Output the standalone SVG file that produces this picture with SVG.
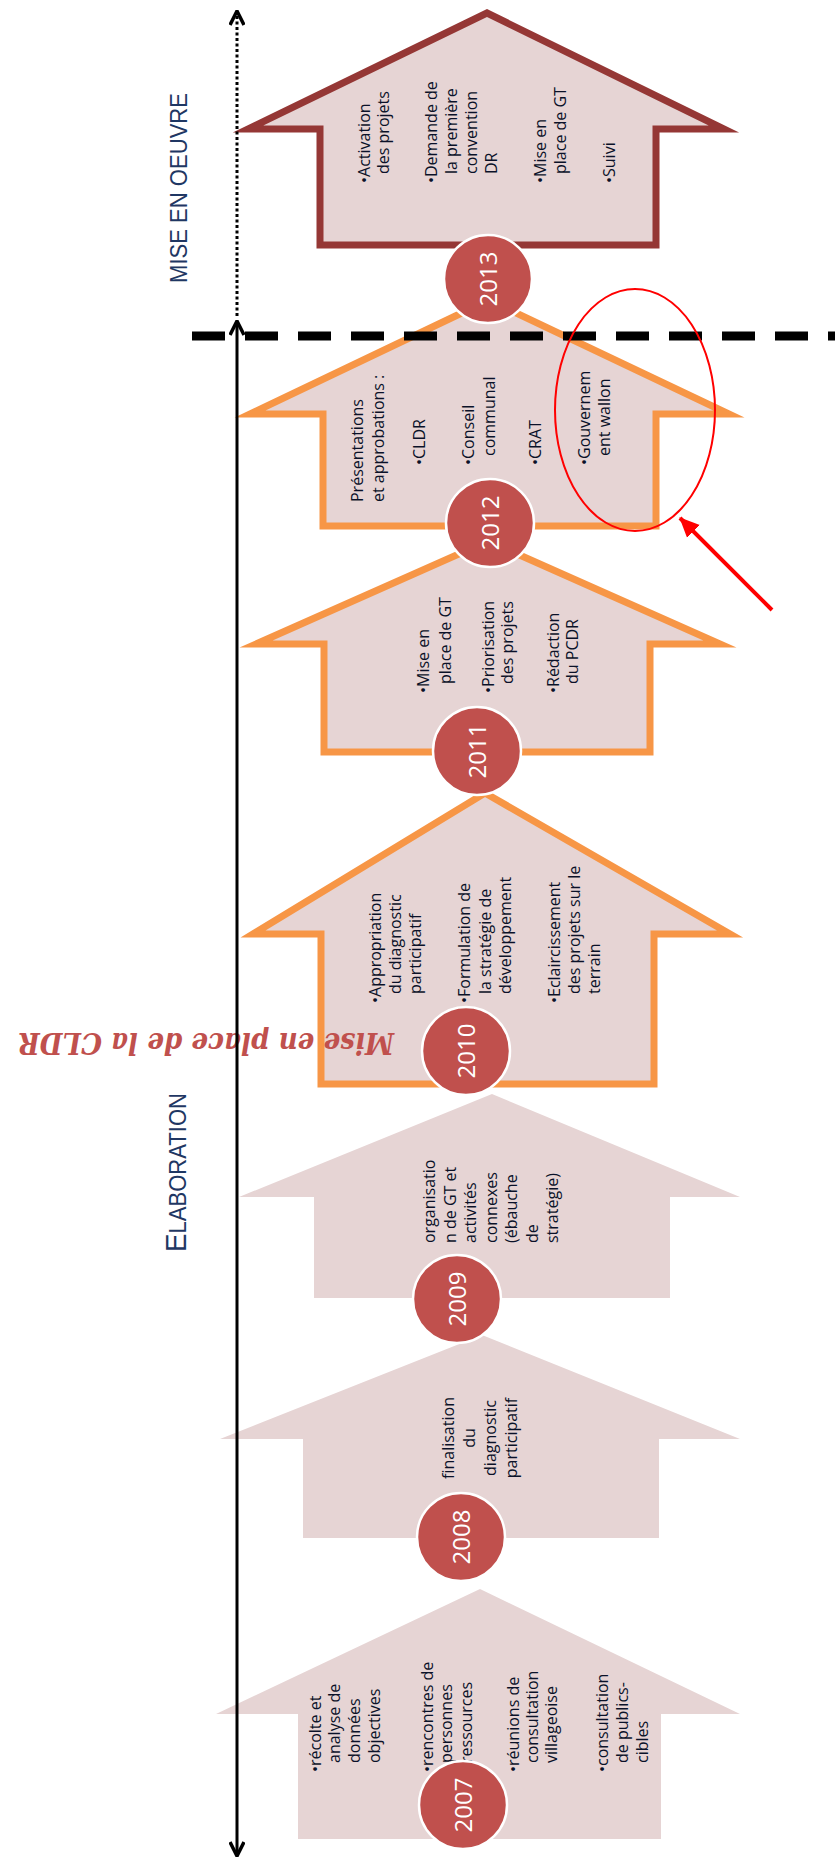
<svg xmlns="http://www.w3.org/2000/svg" width="835" height="1858" viewBox="0 0 835 1858">
<defs>
<style>
.h{fill:#E6D4D4}
.ho{fill:#E6D4D4;stroke:#F79646;stroke-width:7;stroke-miterlimit:10}
.hr{fill:#E6D4D4;stroke:#953735;stroke-width:7;stroke-miterlimit:10}
.t{font-family:"Open Sans","Noto Sans",sans-serif;font-size:16px;fill:#0A1128}
.yc{fill:#C0504D;stroke:#ffffff;stroke-width:2.5}
.yt{font-family:"Open Sans","Noto Sans",sans-serif;font-size:24px;fill:#ffffff;text-anchor:middle}
.lab{font-family:"Liberation Sans",Arial,sans-serif;fill:#1F3763}
.ax{fill:none;stroke:#000;stroke-width:3}
</style>
<marker id="chev" viewBox="0 0 16 16" refX="15" refY="8" markerWidth="16" markerHeight="16" markerUnits="userSpaceOnUse" orient="auto-start-reverse">
<path d="M1,1 L15,8 L1,15" fill="none" stroke="#000" stroke-width="3.5"/>
</marker>
<marker id="redhead" viewBox="0 0 20 20" refX="19" refY="10" markerWidth="20" markerHeight="20" markerUnits="userSpaceOnUse" orient="auto">
<path d="M0,1 L20,10 L0,19 Z" fill="#FF0000"/>
</marker>
</defs>
<rect width="835" height="1858" fill="#ffffff"/>

<g id="node-2007">
<polygon class="h" points="480,1589 740,1714 661,1714 661,1839 298,1839 298,1714 216,1714"/>
<text class="t" transform="translate(321,1772) rotate(-90)"><tspan x="0" y="0">•récolte et</tspan><tspan x="9" y="19">analyse de</tspan><tspan x="9" y="39">données</tspan><tspan x="9" y="59">objectives</tspan></text>
<text class="t" transform="translate(433,1772) rotate(-90)"><tspan x="0" y="0">•rencontres de</tspan><tspan x="9" y="19">personnes</tspan><tspan x="9" y="39">ressources</tspan></text>
<text class="t" transform="translate(519,1772) rotate(-90)"><tspan x="0" y="0">•réunions de</tspan><tspan x="9" y="19">consultation</tspan><tspan x="9" y="38">villageoise</tspan></text>
<text class="t" transform="translate(608,1772) rotate(-90)"><tspan x="0" y="0">•consultation</tspan><tspan x="9" y="20">de publics-</tspan><tspan x="9" y="40">cibles</tspan></text>
<circle class="yc" cx="463" cy="1805" r="44"/>
<text class="yt" transform="translate(471.5,1805) rotate(-90)">2007</text>
</g>

<g id="node-2008">
<polygon class="h" points="482,1335 740,1439 659,1439 659,1538 303,1538 303,1439 220,1439"/>
<text class="t" text-anchor="middle" transform="translate(454,1438) rotate(-90)"><tspan x="0" y="0">finalisation</tspan><tspan x="0" y="21">du</tspan><tspan x="0" y="42">diagnostic</tspan><tspan x="0" y="63">participatif</tspan></text>
<circle class="yc" cx="461" cy="1537" r="44"/>
<text class="yt" transform="translate(469.5,1537) rotate(-90)">2008</text>
</g>

<g id="node-2009">
<polygon class="h" points="492,1094 740,1197 670,1197 670,1298 314,1298 314,1197 239,1197"/>
<text class="t" transform="translate(435,1243) rotate(-90)"><tspan x="0" y="0">organisatio</tspan><tspan x="0" y="21">n de GT et</tspan><tspan x="0" y="41">activités</tspan><tspan x="0" y="62">connexes</tspan><tspan x="0" y="82">(ébauche</tspan><tspan x="0" y="103">de</tspan><tspan x="0" y="123">stratégie)</tspan></text>
<circle class="yc" cx="457" cy="1299" r="44"/>
<text class="yt" transform="translate(465.5,1299) rotate(-90)">2009</text>
</g>

<g id="node-2010">
<polygon class="ho" points="485,793 730,934 654,934 654,1084 321,1084 321,934 253,934"/>
<text class="t" transform="translate(381,1003) rotate(-90)"><tspan x="0" y="0">•Appropriation</tspan><tspan x="9" y="20">du diagnostic</tspan><tspan x="9" y="40">participatif</tspan></text>
<text class="t" transform="translate(470,1003) rotate(-90)"><tspan x="0" y="0">•Formulation de</tspan><tspan x="9" y="21">la stratégie de</tspan><tspan x="9" y="41">développement</tspan></text>
<text class="t" transform="translate(560,1003) rotate(-90)"><tspan x="0" y="0">•Eclaircissement</tspan><tspan x="9" y="20">des projets sur le</tspan><tspan x="9" y="40">terrain</tspan></text>
<circle class="yc" cx="466" cy="1051" r="44"/>
<text class="yt" transform="translate(474.5,1051) rotate(-90)">2010</text>
</g>

<g id="node-2011">
<polygon class="ho" points="488,541 720,644 650,644 650,752 324,752 324,644 256,644"/>
<text class="t" transform="translate(429,693) rotate(-90)"><tspan x="0" y="0">•Mise en</tspan><tspan x="9" y="22">place de GT</tspan></text>
<text class="t" transform="translate(494,693) rotate(-90)"><tspan x="0" y="0">•Priorisation</tspan><tspan x="9" y="19">des projets</tspan></text>
<text class="t" transform="translate(559,693) rotate(-90)"><tspan x="0" y="0">•Rédaction</tspan><tspan x="9" y="19">du PCDR</tspan></text>
<circle class="yc" cx="477" cy="751" r="44"/>
<text class="yt" transform="translate(485.5,751) rotate(-90)">2011</text>
</g>

<g id="node-2012">
<polygon class="ho" points="489,300 729,414 656,414 656,526 323,526 323,414 250,414"/>
<text class="t" transform="translate(363,502) rotate(-90)"><tspan x="0" y="0">Présentations</tspan><tspan x="0" y="21">et approbations :</tspan></text>
<text class="t" transform="translate(425,465) rotate(-90)">•CLDR</text>
<text class="t" transform="translate(474,465) rotate(-90)"><tspan x="0" y="0">•Conseil</tspan><tspan x="9" y="21">communal</tspan></text>
<text class="t" transform="translate(541,465) rotate(-90)">•CRAT</text>
<text class="t" transform="translate(590,465) rotate(-90)"><tspan x="0" y="0">•Gouvernem</tspan><tspan x="9" y="20">ent wallon</tspan></text>
<circle class="yc" cx="490" cy="523" r="44"/>
<text class="yt" transform="translate(498.5,523) rotate(-90)">2012</text>
</g>

<g id="node-2013">
<polygon class="hr" points="487,13 724,129 656,129 656,245 320,245 320,129 248,129"/>
<text class="t" transform="translate(370,183) rotate(-90)"><tspan x="0" y="0">•Activation</tspan><tspan x="9" y="19">des projets</tspan></text>
<text class="t" transform="translate(437,183) rotate(-90)"><tspan x="0" y="0">•Demande de</tspan><tspan x="9" y="20">la première</tspan><tspan x="9" y="40">convention</tspan><tspan x="9" y="60">DR</tspan></text>
<text class="t" transform="translate(546,183) rotate(-90)"><tspan x="0" y="0">•Mise en</tspan><tspan x="9" y="20">place de GT</tspan></text>
<text class="t" transform="translate(615,183) rotate(-90)">•Suivi</text>
<circle class="yc" cx="488" cy="279" r="44"/>
<text class="yt" transform="translate(496.5,279) rotate(-90)">2013</text>
</g>

<g id="cldr-label">
<text transform="translate(394,1033) rotate(180)" font-family="'DejaVu Serif',serif" font-style="italic" font-weight="bold" font-size="30" fill="#C0504D" textLength="376" lengthAdjust="spacingAndGlyphs">Mise en place de la CLDR</text>
</g>

<g id="phase-labels">
<text class="lab" font-size="24" textLength="190" lengthAdjust="spacingAndGlyphs" transform="translate(187,283) rotate(-90)">MISE EN OEUVRE</text>
<text class="lab" textLength="159" lengthAdjust="spacingAndGlyphs" transform="translate(186,1252) rotate(-90)"><tspan font-size="29">E</tspan><tspan font-size="23">LABORATION</tspan></text>
</g>

<g id="connectors">
<line x1="192" y1="336" x2="835" y2="336" stroke="#000" stroke-width="9" stroke-dasharray="33 20"/>
<path class="ax" d="M237,316 L237,11" stroke-width="3.5" stroke-dasharray="3 2.5" marker-end="url(#chev)"/>
<path class="ax" d="M237,321 L237,1856" marker-start="url(#chev)" marker-end="url(#chev)"/>
</g>

<g id="annotation">
<ellipse cx="635" cy="410" rx="80" ry="121" fill="none" stroke="#FF0000" stroke-width="2"/>
<path d="M772,610 L680,518" fill="none" stroke="#FF0000" stroke-width="4" marker-end="url(#redhead)"/>
</g>
</svg>
